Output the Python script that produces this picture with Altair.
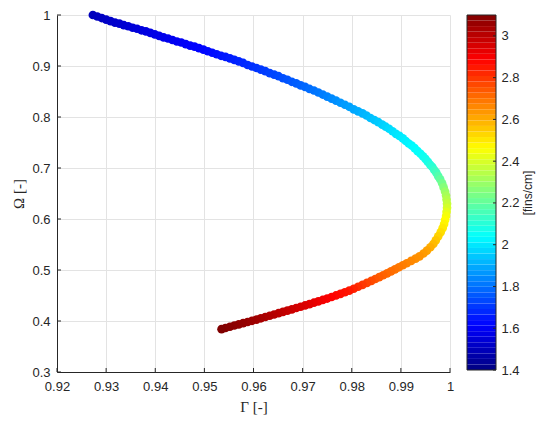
import altair as alt
import pandas as pd
import numpy as np

# ---- data (three stretches of the curve) ----
gamma_top = [0.9273, 0.9282, 0.9291, 0.9300, 0.9309, 0.9318, 0.9327, 0.9336, 0.9345, 0.9354,
             0.9363, 0.9372, 0.9381, 0.9390, 0.9399, 0.9408, 0.9417, 0.9426, 0.9435, 0.9444,
             0.9453, 0.9462, 0.9471, 0.9480, 0.9489, 0.9498, 0.9507, 0.9516, 0.9525, 0.9534,
             0.9543, 0.9552, 0.9561, 0.9570, 0.9579, 0.9588, 0.9597, 0.9606, 0.9615, 0.9624,
             0.9633, 0.9642, 0.9651, 0.9660, 0.9669, 0.9678, 0.9687, 0.9696, 0.9705, 0.9714,
             0.9723, 0.9732, 0.9741, 0.9750, 0.9759, 0.9768, 0.9777, 0.9786, 0.9795, 0.9804,
             0.9813, 0.9822, 0.9830, 0.9838, 0.9846, 0.9854, 0.9862, 0.9869, 0.9876, 0.9883,
             0.9890, 0.9897, 0.9904, 0.9910, 0.9916, 0.9922, 0.9928, 0.9934, 0.9940, 0.9945,
             0.9950, 0.9955, 0.9960, 0.9964, 0.9968, 0.9972, 0.9976]
omega_top = [1.000, 0.997, 0.994, 0.991, 0.988, 0.985, 0.983, 0.980, 0.978, 0.975,
             0.973, 0.970, 0.968, 0.965, 0.962, 0.959, 0.956, 0.954, 0.951, 0.948,
             0.946, 0.943, 0.940, 0.938, 0.935, 0.932, 0.929, 0.926, 0.923, 0.920,
             0.918, 0.915, 0.912, 0.909, 0.906, 0.902, 0.899, 0.896, 0.893, 0.890,
             0.886, 0.883, 0.880, 0.876, 0.873, 0.869, 0.866, 0.862, 0.859, 0.855,
             0.852, 0.848, 0.844, 0.840, 0.836, 0.832, 0.828, 0.824, 0.820, 0.815,
             0.811, 0.807, 0.803, 0.798, 0.794, 0.790, 0.785, 0.781, 0.777, 0.772,
             0.767, 0.763, 0.758, 0.753, 0.748, 0.744, 0.739, 0.733, 0.728, 0.723,
             0.718, 0.712, 0.706, 0.702, 0.696, 0.691, 0.684]
fins_top = [1.500, 1.505, 1.510, 1.515, 1.520, 1.525, 1.530, 1.535, 1.540, 1.545,
            1.550, 1.555, 1.560, 1.565, 1.570, 1.574, 1.578, 1.583, 1.587, 1.592,
            1.596, 1.601, 1.605, 1.610, 1.614, 1.619, 1.625, 1.631, 1.638, 1.645,
            1.651, 1.658, 1.664, 1.671, 1.678, 1.684, 1.691, 1.697, 1.704, 1.711,
            1.719, 1.727, 1.735, 1.743, 1.751, 1.759, 1.767, 1.775, 1.784, 1.793,
            1.802, 1.811, 1.821, 1.830, 1.840, 1.850, 1.860, 1.870, 1.880, 1.890,
            1.900, 1.911, 1.920, 1.930, 1.940, 1.950, 1.960, 1.968, 1.976, 1.984,
            1.992, 2.000, 2.008, 2.014, 2.020, 2.027, 2.034, 2.042, 2.050, 2.058,
            2.066, 2.075, 2.095, 2.110, 2.130, 2.150, 2.175]

gamma_turn = [0.9980, 0.9984, 0.9987, 0.9990, 0.9992, 0.9993, 0.9994, 0.9994, 0.9993, 0.9992,
              0.9990, 0.9988, 0.9985, 0.9981, 0.9976, 0.9971, 0.9966, 0.9960, 0.9953, 0.9946]
omega_turn = [0.678, 0.670, 0.662, 0.654, 0.646, 0.638, 0.630, 0.622, 0.614, 0.606,
              0.598, 0.590, 0.582, 0.574, 0.566, 0.558, 0.551, 0.5445, 0.538, 0.5323]
fins_turn = [2.200, 2.230, 2.260, 2.290, 2.315, 2.340, 2.365, 2.390, 2.418, 2.445,
             2.465, 2.480, 2.497, 2.515, 2.535, 2.555, 2.575, 2.595, 2.615, 2.630]

gamma_bot = [0.9938, 0.9930, 0.9921, 0.9912, 0.9904, 0.9896, 0.9888, 0.9880, 0.9872,
             0.9864, 0.9856, 0.9848, 0.9840, 0.9831, 0.9822, 0.9813, 0.9804, 0.9795, 0.9786,
             0.9777, 0.9768, 0.9759, 0.9750, 0.9741, 0.9732, 0.9723, 0.9714, 0.9705, 0.9696,
             0.9687, 0.9678, 0.9669, 0.9660, 0.9651, 0.9642, 0.9633, 0.9624, 0.9615, 0.9606,
             0.9597, 0.9588, 0.9579, 0.9570, 0.9561, 0.9552, 0.9543, 0.9535]
omega_bot = [0.5268, 0.5223, 0.5178, 0.5133, 0.5093, 0.5053, 0.5013, 0.4973, 0.4935,
             0.4897, 0.4860, 0.4823, 0.4787, 0.4747, 0.4709, 0.4671, 0.4633, 0.4595, 0.4563,
             0.4532, 0.4501, 0.4471, 0.4440, 0.4413, 0.4386, 0.4359, 0.4332, 0.4305, 0.4280,
             0.4255, 0.4229, 0.4204, 0.4179, 0.4153, 0.4128, 0.4103, 0.4078, 0.4053, 0.4028,
             0.4004, 0.3981, 0.3958, 0.3935, 0.3911, 0.3887, 0.3863, 0.3840]
fins_bot = [2.642, 2.650, 2.659, 2.668, 2.677, 2.686, 2.695, 2.704, 2.712,
            2.722, 2.733, 2.746, 2.762, 2.779, 2.796, 2.813, 2.830, 2.847, 2.857,
            2.866, 2.876, 2.886, 2.896, 2.905, 2.915, 2.925, 2.935, 2.944, 2.954,
            2.963, 2.972, 2.981, 2.990, 2.999, 3.008, 3.017, 3.026, 3.035, 3.044,
            3.052, 3.059, 3.066, 3.072, 3.078, 3.085, 3.092, 3.100]

x_ticks = [0.92, 0.93, 0.94, 0.95, 0.96, 0.97, 0.98, 0.99, 1.0]
y_ticks = [0.3, 0.4, 0.5, 0.6, 0.7, 0.8, 0.9, 1.0]
cb_ticks = [1.4, 1.6, 1.8, 2.0, 2.2, 2.4, 2.6, 2.8, 3.0]
cb_min, cb_max = 1.4, 3.1

gamma = gamma_top + gamma_turn + gamma_bot
omega = omega_top + omega_turn + omega_bot
fins = fins_top + fins_turn + fins_bot
df = pd.DataFrame({"gamma": gamma, "omega": omega, "fins": fins, "order": range(len(gamma))})

# jet colormap anchors
jet_domain = [cb_min + (cb_max - cb_min) * t for t in [0, 0.125, 0.375, 0.625, 0.875, 1.0]]
jet_range = ["#000080", "#0000ff", "#00ffff", "#ffff00", "#ff0000", "#800000"]
color_scale = alt.Scale(domain=jet_domain, range=jet_range, interpolate="rgb")

W, H = 393, 357
TICK = "#262626"

x_scale = alt.Scale(domain=[0.92, 1.0], nice=False, zero=False)
y_scale = alt.Scale(domain=[0.3, 1.0], nice=False, zero=False)
x_axis = alt.Axis(title="Γ [-]", values=x_ticks, format="~g", ticks=False, labelFlush=False,
                  labelPadding=8, titlePadding=6)
y_axis = alt.Axis(title="Ω [-]", values=y_ticks, format="~g", ticks=False, labelFlush=False,
                  labelPadding=7, titlePadding=5)

points = alt.Chart(df).mark_circle(size=75, opacity=1).encode(
    x=alt.X("gamma:Q", scale=x_scale, axis=x_axis),
    y=alt.Y("omega:Q", scale=y_scale, axis=y_axis),
    color=alt.Color("fins:Q", scale=color_scale, legend=None),
    order=alt.Order("order:Q"),
)

# inward tick marks (MATLAB style)
ytick_marks = alt.Chart(pd.DataFrame({"omega": y_ticks})).mark_rule(color=TICK, strokeWidth=1).encode(
    y=alt.Y("omega:Q", scale=y_scale, axis=y_axis),
    x=alt.value(0), x2=alt.value(4),
)
xtick_marks = alt.Chart(pd.DataFrame({"gamma": x_ticks})).mark_rule(color=TICK, strokeWidth=1).encode(
    x=alt.X("gamma:Q", scale=x_scale, axis=x_axis),
    y=alt.value(H), y2=alt.value(H - 4),
)

main = alt.layer(points, ytick_marks, xtick_marks).properties(width=W, height=H)

# colorbar (64 discrete levels like MATLAB)
edges = np.linspace(cb_min, cb_max, 65)
cb_df = pd.DataFrame({"lo": edges[:-1], "hi": edges[1:], "mid": (edges[:-1] + edges[1:]) / 2})
CBW, CBH = 29, 355

cb_scale = alt.Scale(domain=[cb_min, cb_max], nice=False, zero=False)
cb_axis = alt.Axis(orient="right", title="[fins/cm]", values=cb_ticks, format="~g",
                   ticks=False, domain=False, grid=False, labelPadding=5, labelFlush=False,
                   titleFont="Liberation Sans", titleFontSize=12, titleAngle=270,
                   titleBaseline="top", titlePadding=3)

cb_rects = alt.Chart(cb_df).mark_rect().encode(
    x=alt.value(0), x2=alt.value(CBW),
    y=alt.Y("lo:Q", scale=cb_scale, axis=cb_axis),
    y2="hi:Q",
    color=alt.Color("mid:Q", scale=color_scale, legend=None),
)
cb_tick_marks = alt.Chart(pd.DataFrame({"lo": cb_ticks})).mark_rule(color=TICK, strokeWidth=1).encode(
    y=alt.Y("lo:Q", scale=cb_scale, axis=cb_axis),
    x=alt.value(CBW - 3), x2=alt.value(CBW),
)
cb_border = alt.Chart(pd.DataFrame({"a": [0]})).mark_rect(
    fill=None, stroke=TICK, strokeWidth=1
).encode(x=alt.value(0), x2=alt.value(CBW), y=alt.value(0), y2=alt.value(CBH))

colorbar = alt.layer(cb_rects, cb_tick_marks, cb_border).properties(width=CBW, height=CBH)

chart = alt.hconcat(main, colorbar, spacing=17).resolve_scale(color="independent").properties(
    bounds="flush", padding={"left": 3, "top": 1, "right": 5, "bottom": 5}
).configure_view(stroke=None).configure_axis(
    labelFont="Liberation Sans", labelFontSize=13, labelColor="#262626",
    titleFont="Liberation Serif", titleFontSize=15, titleColor="#262626",
    titleFontWeight="normal", domainColor="#262626", gridColor="#e3e3e3",
)

chart.save("out.html", embed_options={"renderer": "svg", "actions": False})
